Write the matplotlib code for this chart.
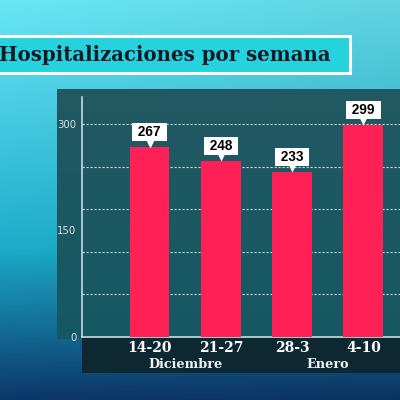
import numpy as np
import matplotlib
matplotlib.use("Agg")
import matplotlib.pyplot as plt
import matplotlib.transforms as mtransforms
from matplotlib.patches import Rectangle

# datos
semanas = ["14-20", "21-27", "28-3", "4-10"]
hospitalizaciones = [267, 248, 233, 299]
meses = ["Diciembre", "Enero"]
meses_pos = [0.5, 2.5]
ticks_y = [0, 150, 300]
grid_y = [60, 120, 180, 240, 300]
titulo = "Hospitalizaciones por semana"

W, H = 400, 400
fig = plt.figure(figsize=(4, 4), dpi=100)

# fondo en coordenadas de pixel
bg = fig.add_axes([0, 0, 1, 1])
bg.set_xlim(0, W)
bg.set_ylim(H, 0)
bg.axis("off")

yy = np.linspace(0, 1, 200)[:, None]
xx = np.linspace(0, 1, 200)[None, :]
top = np.array([105, 230, 246]) / 255
mid = np.array([28, 172, 202]) / 255
low = np.array([12, 55, 105]) / 255
t = yy[..., None]
col = np.where(t < 0.62, top + (mid - top) * (t / 0.62), mid + (low - mid) * ((t - 0.62) / 0.38))
col = col * (1 - 0.08 * xx[..., None]) + np.zeros((1, 200, 3))
bg.imshow(np.clip(col, 0, 1), extent=[0, W, H, 0], aspect="auto", zorder=0)

# panel oscuro
pt = np.array([34, 88, 98]) / 255
pb = np.array([22, 88, 98]) / 255
pan = pt + (pb - pt) * np.linspace(0, 1, 100)[:, None, None]
pan = np.repeat(pan, 2, axis=1)
bg.imshow(pan, extent=[57, W, 339, 89], aspect="auto", zorder=1)
bg.add_patch(Rectangle((82, 338), W - 82, 35, facecolor="#0e2831", edgecolor="none", zorder=2))

# cuadro del título
bg.add_patch(Rectangle((-5, 36), 355, 37, facecolor="#26d2dc", edgecolor="white", lw=2.2, zorder=3))
bg.text(-1, 55, titulo, fontsize=14.2, fontweight="bold", family="DejaVu Serif",
        color="#0f1a28", va="center", ha="left", zorder=4)

# ejes del gráfico
ax = fig.add_axes([82 / W, (H - 337) / H, (W - 82) / W, (337 - 97) / H])
ax.set_facecolor("none")
x = np.arange(len(semanas))
ax.set_xlim(-0.947, 3.513)
ax.set_ylim(0, 338)

for g in grid_y:
    ax.axhline(g, color="#e6f0f2", lw=0.8, ls=(0, (2, 1.6)), alpha=0.85, zorder=1)

ax.bar(x, hospitalizaciones, width=0.56, color="#ff2156", zorder=3)

tri = mtransforms.offset_copy(ax.transData, fig=fig, y=3.5, units="dots")
for i, v in enumerate(hospitalizaciones):
    ax.plot(i, v, marker="v", ms=6, color="white", mec="none", transform=tri, zorder=4)
    ax.annotate(" %d " % v, (i, v), xytext=(0, 10.8), textcoords="offset points",
                ha="center", va="center", fontsize=9.8, fontweight="bold",
                family="Liberation Sans", color="black", zorder=5,
                bbox=dict(boxstyle="square,pad=0.15", fc="white", ec="none"))

for s in ["top", "right"]:
    ax.spines[s].set_visible(False)
for s in ["left", "bottom"]:
    ax.spines[s].set_color("#d5e6ea")
    ax.spines[s].set_linewidth(1.1)

ax.set_yticks(ticks_y)
ax.set_yticklabels([str(v) for v in ticks_y])
ax.tick_params(axis="y", length=0, pad=4, labelsize=7.3, labelcolor="#dbe6e8")
ax.set_xticks(x)
ax.set_xticklabels(semanas, fontsize=10, fontweight="bold", family="DejaVu Serif", color="white")
ax.tick_params(axis="x", length=0, pad=3)

blend = mtransforms.blended_transform_factory(ax.transData, ax.transAxes)
for m, p in zip(meses, meses_pos):
    ax.text(p, -0.113, m, transform=blend, ha="center", va="center", fontsize=9.3,
            fontweight="bold", family="DejaVu Serif", color="#eef4f5")

fig.savefig("out.png", dpi=100)
